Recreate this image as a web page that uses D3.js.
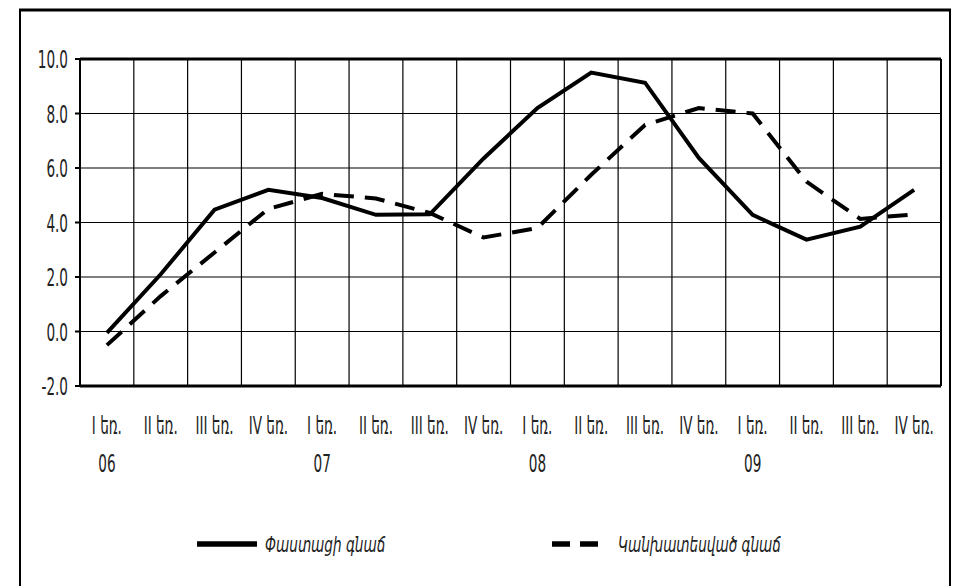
<!DOCTYPE html>
<html>
<head>
<meta charset="utf-8">
<script src="https://cdn.jsdelivr.net/npm/d3@7"></script>
<style>
  body { margin: 0; background: #fff; }
  text { font-family: "DejaVu Sans Condensed", "DejaVu Sans", sans-serif; fill: #222; }
</style>
</head>
<body>
<script>
// quarters and years (tick labels)
var quarters = ["I եռ.", "II եռ.", "III եռ.", "IV եռ.", "I եռ.", "II եռ.", "III եռ.", "IV եռ.",
                "I եռ.", "II եռ.", "III եռ.", "IV եռ.", "I եռ.", "II եռ.", "III եռ.", "IV եռ."];
var years = ["06", "", "", "", "07", "", "", "", "08", "", "", "", "09", "", "", ""];
var yTicks = [-2, 0, 2, 4, 6, 8, 10];

// series
var actual   = [-0.05, 2.1, 4.47, 5.2, 4.9, 4.28, 4.3, 6.35, 8.2, 9.5, 9.13, 6.37, 4.28, 3.37, 3.85, 5.2];
var forecast = [-0.5, 1.3, 2.9, 4.5, 5.05, 4.88, 4.35, 3.45, 3.8, 5.75, 7.58, 8.2, 8.0, 5.5, 4.13, 4.3];
var seriesNames = ["Փաստացի գնաճ", "Կանխատեսված գնաճ"];

var W = 954, H = 586;
var margin = {top: 59, left: 80, right: 13, bottom: 200};
var squeeze = 0.63;

var svg = d3.select("body").append("svg")
    .attr("width", W)
    .attr("height", H);

svg.append("rect").attr("width", W).attr("height", H).attr("fill", "#fff");

// outer frame (open at the bottom)
svg.append("path")
    .attr("d", "M20," + H + "V10H950V" + H)
    .attr("fill", "none")
    .attr("stroke", "#000")
    .attr("stroke-width", 2);
svg.append("line")
    .attr("x1", 19).attr("x2", 951).attr("y1", 10).attr("y2", 10)
    .attr("stroke", "#000").attr("stroke-width", 3);

var idx = d3.range(quarters.length);

var x = d3.scaleBand()
    .domain(idx)
    .range([margin.left, W - margin.right]);

var y = d3.scaleLinear()
    .domain([-2, 10])
    .range([386, margin.top]);

var cx = function(i) { return x(i) + x.bandwidth() / 2; };

// grid
var grid = svg.append("g");
grid.selectAll(".h")
    .data(yTicks)
  .enter().append("line")
    .attr("x1", margin.left).attr("x2", W - margin.right)
    .attr("y1", function(d) { return y(d); })
    .attr("y2", function(d) { return y(d); })
    .attr("stroke", "#000")
    .attr("stroke-width", function(d) { return (d == -2 || d == 10) ? 3 : 1.2; });

var bounds = idx.map(function(i) { return x(i); }).concat([W - margin.right]);
grid.selectAll(".v")
    .data(bounds)
  .enter().append("line")
    .attr("x1", function(d) { return d; })
    .attr("x2", function(d) { return d; })
    .attr("y1", y(10)).attr("y2", y(-2))
    .attr("stroke", "#000")
    .attr("stroke-width", function(d, i) { return (i == 0 || i == bounds.length - 1) ? 2 : 1.2; });

// y axis ticks and labels
var yAxis = svg.append("g");
yAxis.selectAll("line")
    .data(yTicks)
  .enter().append("line")
    .attr("x1", margin.left - 5).attr("x2", margin.left)
    .attr("y1", function(d) { return y(d); })
    .attr("y2", function(d) { return y(d); })
    .attr("stroke", "#000").attr("stroke-width", 2);

yAxis.selectAll("g.lab")
    .data(yTicks)
  .enter().append("g")
    .attr("transform", function(d) { return "translate(68," + (y(d) + 9) + ") scale(" + squeeze + ",1)"; })
  .append("text")
    .attr("text-anchor", "end")
    .style("font-size", "24px")
    .text(function(d) { return d3.format(".1f")(d).replace("−", "-"); });

// x labels
var xAxis = svg.append("g");
xAxis.selectAll("g.q")
    .data(idx)
  .enter().append("g")
    .attr("transform", function(i) { return "translate(" + cx(i) + ",434) scale(" + squeeze + ",1)"; })
  .append("text")
    .attr("text-anchor", "middle")
    .style("font-size", "24px")
    .text(function(i) { return quarters[i]; });

xAxis.selectAll("g.yr")
    .data(idx.filter(function(i) { return years[i] != ""; }))
  .enter().append("g")
    .attr("transform", function(i) { return "translate(" + cx(i) + ",472) scale(" + squeeze + ",1)"; })
  .append("text")
    .attr("text-anchor", "middle")
    .style("font-size", "24px")
    .text(function(i) { return years[i]; });

// lines
var line = d3.line()
    .x(function(d, i) { return cx(i); })
    .y(function(d) { return y(d); });

svg.append("path")
    .datum(forecast)
    .attr("d", line)
    .attr("fill", "none")
    .attr("stroke", "#000")
    .attr("stroke-width", 4)
    .attr("stroke-dasharray", "20,11");

svg.append("path")
    .datum(actual)
    .attr("d", line)
    .attr("fill", "none")
    .attr("stroke", "#000")
    .attr("stroke-width", 4);

// legend
var legend = svg.append("g");
legend.append("line")
    .attr("x1", 197).attr("x2", 257).attr("y1", 544).attr("y2", 544)
    .attr("stroke", "#000").attr("stroke-width", 5.5);
legend.append("g")
    .attr("transform", "translate(265,552) scale(0.72,1)")
  .append("text")
    .style("font-size", "21px")
    .style("font-style", "italic")
    .text(seriesNames[0]);

legend.append("line")
    .attr("x1", 552).attr("x2", 605).attr("y1", 544).attr("y2", 544)
    .attr("stroke", "#000").attr("stroke-width", 5.5)
    .attr("stroke-dasharray", "18,10");
legend.append("g")
    .attr("transform", "translate(618,552) scale(0.72,1)")
  .append("text")
    .style("font-size", "21px")
    .style("font-style", "italic")
    .text(seriesNames[1]);
</script>
</body>
</html>
